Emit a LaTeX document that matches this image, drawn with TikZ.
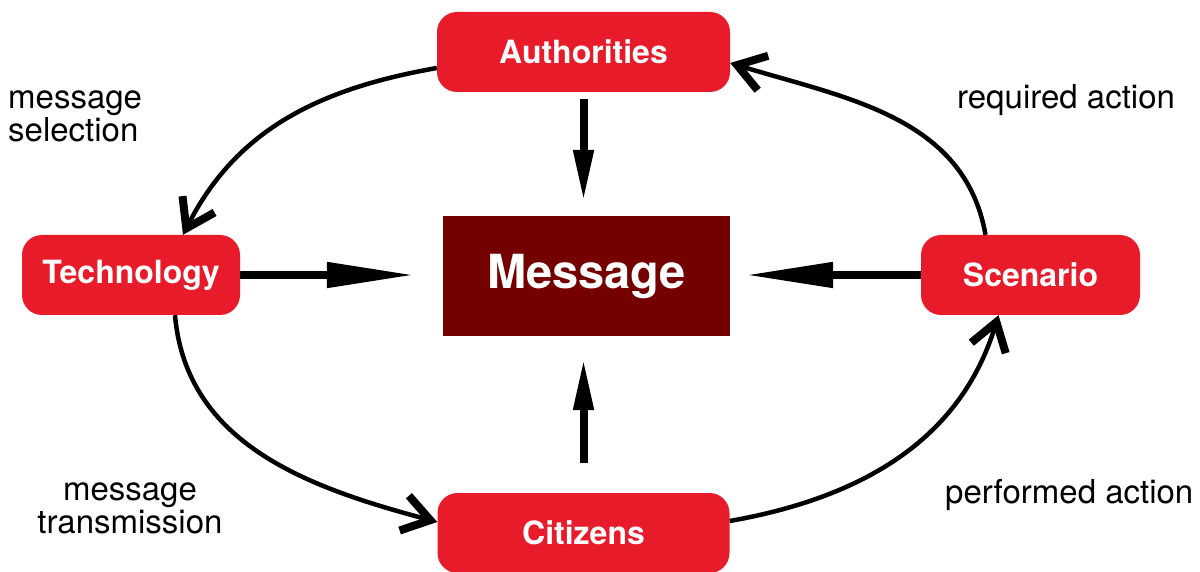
\documentclass[tikz,border=0pt]{standalone}
\usepackage{fontspec}
\setmainfont{TeX Gyre Heros}
\usepackage{xcolor}
\usepackage{tikz}
\usetikzlibrary{arrows.meta}
\definecolor{boxred}{HTML}{E81B2A}
\definecolor{msgred}{HTML}{740000}
\tikzset{
  actor/.style={fill=boxred,rounded corners=20pt,text=white,font=\fontsize{32}{36}\selectfont\bfseries,
    minimum height=80pt,inner sep=0pt},
  label/.style={font=\fontsize{33}{33}\selectfont,text=black,inner sep=0pt},
  flowh/.style={line width=8pt,-{Triangle[length=88pt,width=24pt]}},
  flowv/.style={line width=8pt,-{Triangle[length=52pt,width=19pt]}},
  cycle/.style={line width=4.5pt,-{Straight Barb[length=27pt,width=36pt,line width=8pt,sharp]}}
}

\begin{document}
\begin{tikzpicture}[x=1pt,y=1pt]
\useasboundingbox (0,0) rectangle (1200,571);

% Message in the middle
\node[fill=msgred,text=white,minimum width=287pt,minimum height=120pt,inner sep=0pt,
  font=\fontsize{47}{50}\selectfont\bfseries] (msg) at (586.5,295) {Message};

% The four actors
\node[actor,minimum width=293pt] (auth) at (583.5,519) {Authorities};
\node[actor,minimum width=218pt] (tech) at (131,296) {Technology};
\node[actor,minimum width=219pt] (scen) at (1030.5,296) {Scenario};
\node[actor,minimum width=292pt] (citi) at (583.5,38) {Citizens};

% Arrows into the message
\draw[flowv,shorten <=7pt,shorten >=14pt] (auth.south) -- (auth.south |- msg.north);
\draw[flowh,shorten >=28pt] (tech.east) -- (msg.west |- tech.east);
\draw[flowh,shorten >=15pt] (scen.west) -- (msg.east |- scen.west);
\draw[flowv,shorten <=30pt,shorten >=22pt] (citi.north) -- (citi.north |- msg.south);

% Cycle round the message
\draw[cycle] ([yshift=-16pt]auth.west) to[out=190,in=63] ([xshift=52pt]tech.north);
\draw[cycle] ([xshift=44pt]tech.south) to[out=-85,in=165] ([yshift=11pt]citi.west);
\draw[cycle] ([yshift=12pt]citi.east) to[out=10,in=-107] ([xshift=-32pt]scen.south);
\draw[cycle] ([xshift=-45pt]scen.north) to[out=100,in=-17] ([yshift=-11pt]auth.east);

% Labels of the cycle
\node[label,anchor=west,align=left] (sel) at (8,455) {message\\selection};
\node[label,anchor=west] (req) at (957,471) {required action};
\node[label,align=center] (trans) at (130,63) {message\\transmission};
\node[label,anchor=west] (perf) at (945,76) {performed action};
\end{tikzpicture}
\end{document}
